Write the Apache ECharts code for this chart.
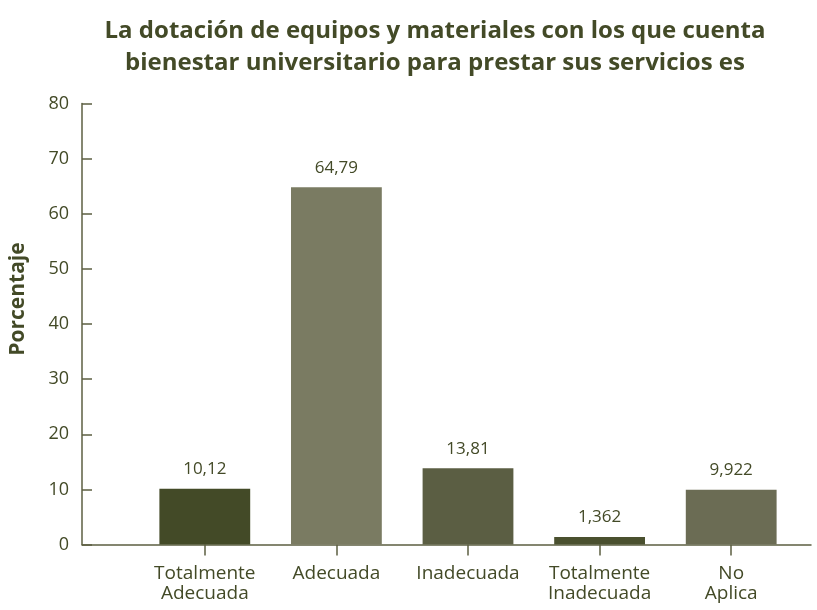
<!DOCTYPE html>
<html>
<head>
<meta charset="utf-8">
<script src="https://cdn.jsdelivr.net/npm/echarts@6/dist/echarts.min.js"></script>
<style>
  html, body { margin: 0; padding: 0; background: #ffffff; }
  #chart { width: 817px; height: 610px; }
</style>
</head>
<body>
<div id="chart"></div>
<script>
// Categorías de respuesta y porcentajes obtenidos
const categories = ['Totalmente\nAdecuada', 'Adecuada', 'Inadecuada', 'Totalmente\nInadecuada', 'No\nAplica'];
const values = [10.12, 64.79, 13.81, 1.362, 9.922];
const barColors = ['#434a27', '#7a7b62', '#5b5e43', '#4a502f', '#6b6c54'];
const yTicks = [0, 10, 20, 30, 40, 50, 60, 70, 80];

const ink = '#434a27';
const lineColor = '#5c5f42';
const font = '"Open Sans"';

const chart = echarts.init(document.getElementById('chart'), null, { renderer: 'canvas' });

chart.setOption({
  backgroundColor: '#ffffff',
  animation: false,
  title: {
    text: 'La dotación de equipos y materiales con los que cuenta\nbienestar universitario para prestar sus servicios es',
    left: 430,
    top: 10,
    textAlign: 'center',
    textStyle: {
      fontFamily: font,
      fontWeight: 'bold',
      fontSize: 24,
      lineHeight: 32,
      color: ink
    }
  },
  grid: [
    // eje de porcentajes y línea base
    { left: 81, right: 6, top: 103.5, bottom: 65.5 },
    // barras
    { left: 139, right: 20, top: 103.5, bottom: 65.5 }
  ],
  xAxis: [
    {
      gridIndex: 0,
      type: 'value',
      min: 0,
      max: 1,
      axisLine: { show: true, onZero: false, lineStyle: { color: lineColor, width: 1.5 } },
      axisTick: { show: false },
      axisLabel: { show: false },
      splitLine: { show: false }
    },
    {
      gridIndex: 1,
      type: 'category',
      data: categories,
      axisLine: { show: false },
      axisTick: { show: true, alignWithLabel: true, length: 11, lineStyle: { color: lineColor, width: 1.5 } },
      axisLabel: {
        interval: 0,
        hideOverlap: false,
        margin: 19,
        fontFamily: font,
        fontSize: 19,
        lineHeight: 20,
        color: ink
      }
    }
  ],
  yAxis: [
    {
      gridIndex: 0,
      type: 'value',
      min: yTicks[0],
      max: yTicks[yTicks.length - 1],
      interval: 10,
      name: 'Porcentaje',
      nameLocation: 'middle',
      nameRotate: 90,
      nameGap: 53,
      nameTextStyle: {
        fontFamily: font,
        fontWeight: 'bold',
        fontSize: 21,
        color: ink,
        padding: [0, 0, 0, 50]
      },
      axisLine: { show: true, lineStyle: { color: lineColor, width: 1.5 } },
      axisTick: { show: true, inside: true, length: 10, lineStyle: { color: lineColor, width: 1.5 } },
      axisLabel: {
        margin: 13,
        fontFamily: font,
        fontSize: 18,
        color: ink
      },
      splitLine: { show: false }
    },
    {
      gridIndex: 1,
      type: 'value',
      min: yTicks[0],
      max: yTicks[yTicks.length - 1],
      interval: 10,
      show: false
    }
  ],
  series: [
    {
      type: 'bar',
      xAxisIndex: 1,
      yAxisIndex: 1,
      barWidth: '69%',
      data: values.map((v, i) => ({ value: v, itemStyle: { color: barColors[i] } })),
      label: {
        show: true,
        position: 'top',
        distance: 11,
        fontFamily: font,
        fontSize: 17,
        color: ink,
        formatter: p => String(p.value).replace('.', ',')
      },
      z: 3
    }
  ]
});
</script>
</body>
</html>
